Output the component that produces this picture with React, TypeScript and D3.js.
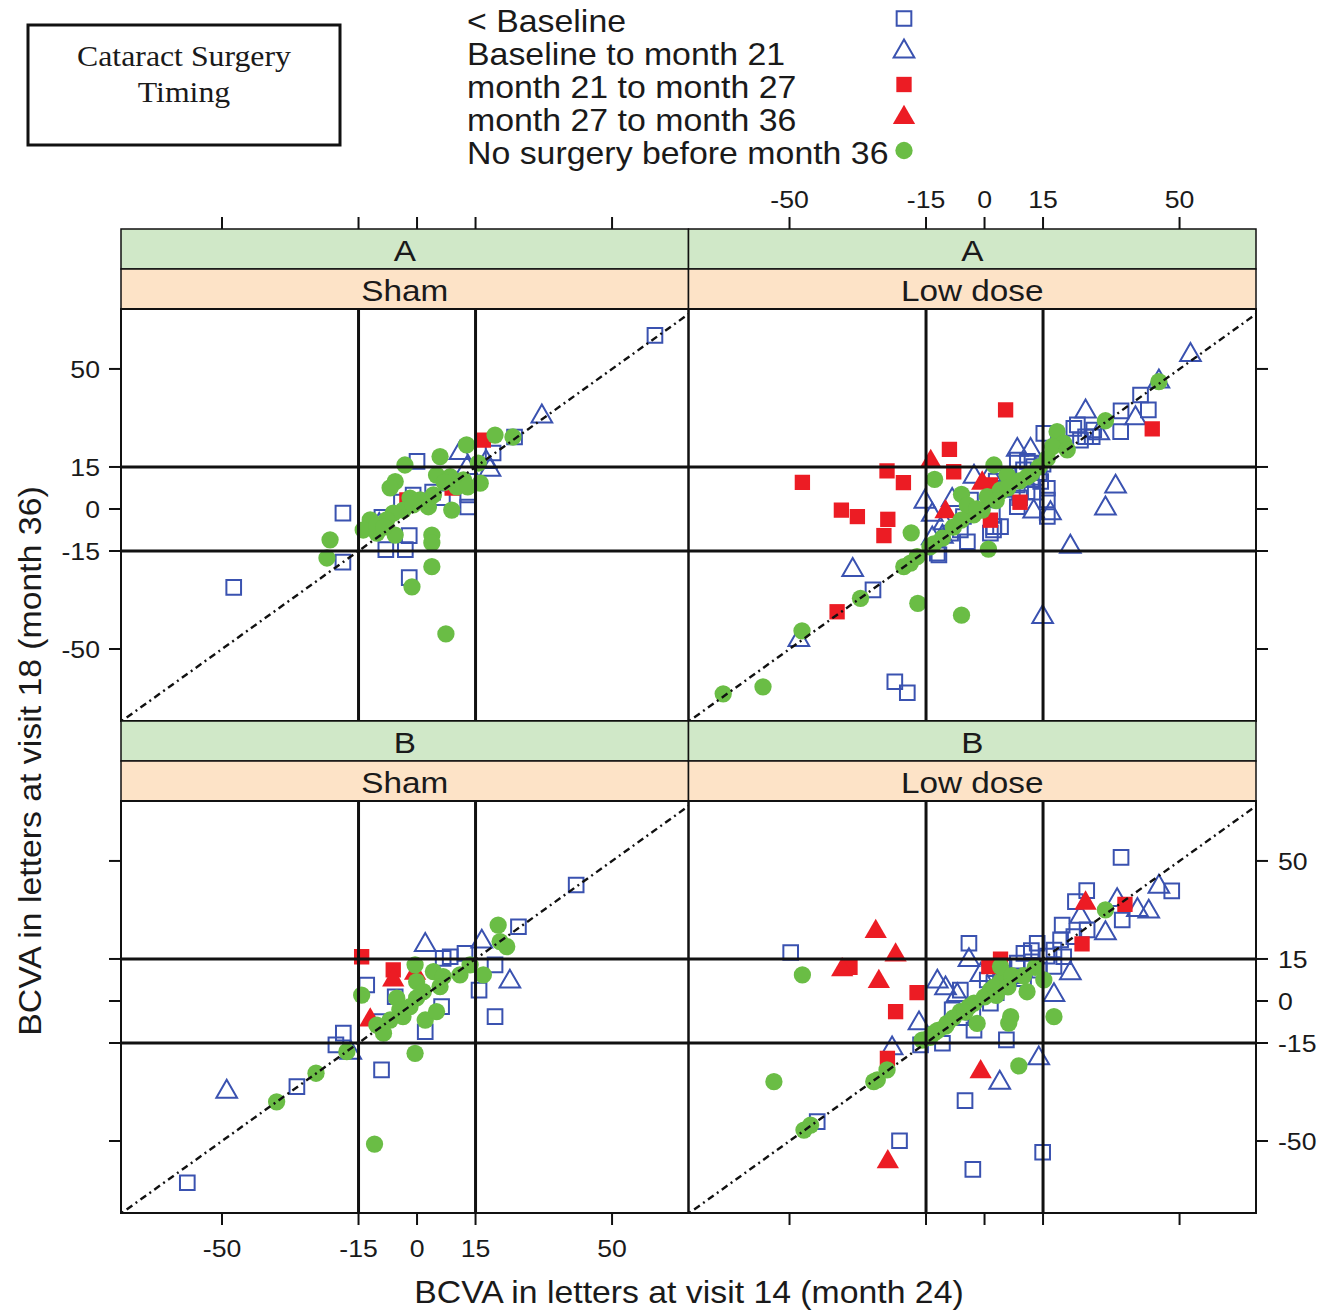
import React from 'react';
import * as d3 from 'd3';

// [x = BCVA change at month 24, y = BCVA change at month 36, surgery-timing group]
type Pt = [number, number, number];

const GROUPS = [
  '< Baseline',
  'Baseline to month 21',
  'month 21 to month 27',
  'month 27 to month 36',
  'No surgery before month 36',
];
const STUDIES = ['A', 'B'];
const ARMS = ['Sham', 'Low dose'];
const TICKS = [-50, -15, 0, 15, 50];
const REF_LINES = [-15, 15];

const aSham: Pt[] = [
  [61, 62, 0], [-47, -28, 0], [-19, -1.5, 0], [-19, -19, 0], [0, 17, 0], [-1, 5, 0], [-4, 2.5, 0],
  [4, 6, 0], [6.5, 4, 0], [13, 5, 0], [13, 0.7, 0], [-9, -3, 0], [-8, -14.5, 0], [-3, -14.5, 0],
  [-2, -9.5, 0], [-2, -24.5, 0], [19.5, 20, 0], [25, 25.7, 0],
  [32, 33, 1], [17.7, 16.8, 1], [11, 20, 1], [18.7, 14, 1], [12.8, 14.6, 1], [-9.7, -5.7, 1],
  [17, 24.6, 2], [-2.6, 3.2, 2], [9, 7.5, 2],
  [20, 26.4, 4], [24.6, 25.7, 4], [12.7, 22.9, 4], [5.9, 18.7, 4], [-3.1, 15.7, 4], [5, 12.1, 4],
  [8.5, 11.5, 4], [11.9, 10.4, 4], [16.2, 9.2, 4], [-5.6, 9.8, 4], [-6.9, 7.5, 4], [-1.8, 3.9, 4],
  [0.8, 3.2, 4], [4.2, 5, 4], [2.9, 0.8, 4], [-3.5, -0.4, 4], [-6.1, -1.5, 4], [-7.8, -3.9, 4],
  [-12, -3.9, 4], [-13.8, -7.5, 4], [-10.3, -8.6, 4], [-5.6, -9.3, 4], [3.8, -9.3, 4], [3.8, -12.1, 4],
  [8.9, -0.4, 4], [3.8, -20.6, 4], [-1.3, -27.8, 4], [-22.3, -11, 4], [-23.1, -17.5, 4], [15.7, 16.4, 4],
  [10.2, 7.9, 4], [13, 7.9, 4], [-10.3, -5.7, 4], [7.4, -44.6, 4], [-8.5, -6.5, 4], [-1, 1.5, 4],
  [7, 9.5, 4],
];

const aLow: Pt[] = [
  [-28.6, -28.9, 0], [-23, -61.7, 0], [-19.8, -65.6, 0], [-11.7, -16.4, 0], [-6.2, -7.5, 0],
  [-8.7, -8.6, 0], [-4.4, -11.7, 0], [-12.1, -15.8, 0], [-3.6, 3.2, 0], [-5.4, -2.7, 0], [2.3, -7.5, 0],
  [34.9, 27.6, 0], [42, 35.4, 0], [35, 35, 0], [23.8, 30, 0], [27.6, 25.8, 0], [15.2, 27, 0],
  [24.6, 24.6, 0], [14.4, 9.8, 0], [16.1, 7.4, 0], [10.9, 6.2, 0], [16.1, 3.2, 0], [2.4, -6.3, 0],
  [8.4, 17.5, 0], [12.6, 15.1, 0], [40, 40.7, 0], [22.9, 28.8, 0], [28, 28.2, 0], [25.9, 25.8, 0],
  [8.4, 0.8, 0], [4.1, -6.3, 0], [16.1, -2.7, 0], [1.5, -8.6, 0], [2, -2, 0], [8.4, 8.6, 0],
  [3, 10, 0], [6, 12, 0], [10, 14, 0], [12, 10.5, 0], [14, 13, 0], [5, 7, 0], [9, 4, 0], [13, 6, 0],
  [11, 17, 0], [15, 16, 0],
  [52.8, 55, 1], [44.7, 45.5, 1], [38.7, 32.4, 1], [25.9, 34.8, 1], [29.3, 27, 1], [33.6, 8, 1],
  [31, 0.2, 1], [8.4, 21.1, 1], [11.8, 21.1, 1], [12.6, -0.9, 1], [16.9, -1.5, 1], [22, -13.5, 1],
  [14.9, -38.6, 1], [-47.6, -46.8, 1], [-33.8, -21.8, 1], [-15.3, 2.6, 1], [-8.3, 3.2, 1],
  [-13.4, -2.1, 1], [-10.4, -5.1, 1], [-10.8, -9.9, 1], [-13.4, -10.5, 1], [-2.7, 11.5, 1], [1.5, 12.1, 1],
  [5.4, 35.4, 2], [43, 28.6, 2], [-9, 21.3, 2], [-25, 13.6, 2], [-20.8, 9.4, 2], [-46.7, 9.5, 2],
  [-36.7, -0.4, 2], [-32.6, -2.7, 2], [-24.8, -3.7, 2], [-25.8, -9.5, 2], [-7.9, 13.3, 2],
  [1.5, 8.6, 2], [1.5, -4, 2], [9.1, 2.4, 2], [-37.8, -36.7, 2],
  [-13.8, 16.9, 3], [-10, -1, 3], [-0.6, 9.2, 3],
  [-67, -66, 4], [-56.8, -63.5, 4], [-46.8, -43.5, 4], [-31.8, -31.9, 4], [-20.7, -20.6, 4],
  [-19, -19.3, 4], [-17.3, -17, 4], [-17.1, -33.7, 4], [-5.9, -37.9, 4], [1, -14.3, 4],
  [-12.8, 10.6, 4], [-5.9, 5.2, 4], [-18.8, -8.5, 4], [2.3, 4.3, 4], [-0.6, -0.4, 4], [-2.8, -2.1, 4],
  [-10.8, -10.4, 4], [4.1, 6.2, 4], [31, 31.5, 4], [18.6, 27.6, 4], [20.3, 23.5, 4], [17.4, 22.3, 4],
  [21.2, 21.1, 4], [16.1, 18.1, 4], [2.4, 15.7, 4], [5.8, 12.1, 4], [10.9, 11.5, 4], [0.7, 4.4, 4],
  [4.1, 6.8, 4], [44.7, 45.5, 4], [-4.4, 1.4, 4], [-8, -6.5, 4], [-13, -12.5, 4], [-14, -13.5, 4],
  [-6, -4, 4], [-2, 0, 4], [3, 3, 4], [6, 7.5, 4], [9, 10, 4], [12, 12.5, 4], [14, 15, 4],
];

const bSham: Pt[] = [
  [-58.9, -64.9, 0], [-30.8, -30.6, 0], [-9.1, -24.6, 0], [-20.8, -15.7, 0], [26, 26.5, 0],
  [40.8, 41.4, 0], [6.7, 15.2, 0], [8.5, 15.8, 0], [12.3, 17, 0], [20, 12.9, 0], [20, -5.6, 0],
  [15.9, 3.9, 0], [-12.9, 5.7, 0], [-5.6, 1.5, 0], [6.3, -2, 0], [2.1, -11, 0], [-9.1, -7.4, 0],
  [-18.9, -11.5, 0],
  [-48.8, -32.4, 1], [16.6, 21.2, 1], [2.1, 20, 1], [23.8, 6.9, 1], [-17, -18.5, 1],
  [-14.2, 15.8, 2], [-6.1, 11.1, 2],
  [-6.1, 7.5, 3], [-0.5, 9.9, 3], [-12, -6.8, 3],
  [-36, -36, 4], [-25.9, -25.8, 4], [-18, -18.1, 4], [-10.9, -51.1, 4], [20.8, 27.1, 4],
  [21.3, 21.2, 4], [23, 19.4, 4], [-14.2, 2.1, 4], [-0.5, 12.9, 4], [4.2, 10.5, 4], [6.7, 8.7, 4],
  [11, 9.3, 4], [13.6, 12.9, 4], [17, 9.3, 4], [5.9, 5.1, 4], [-0.1, 6.9, 4], [1.6, 3.3, 4],
  [-5.2, 1, 4], [-4.4, -3.2, 4], [-0.1, 1.1, 4], [-6.9, -6.8, 4], [-10.3, -8.6, 4], [-8.6, -11.5, 4],
  [2.1, -6.8, 4], [5, -3.8, 4], [-0.5, -18.7, 4], [-3.6, -5.6, 4], [-1.8, -2, 4],
];

const bLow: Pt[] = [
  [-49.7, 17.3, 0], [-4, 20.6, 0], [-6.2, 3.9, 0], [-8.3, -3.2, 0], [-2.7, -10.4, 0], [5.6, -13.9, 0],
  [1.5, -0.8, 0], [-16.4, -15.7, 0], [-10.8, -15.1, 0], [-42.9, -43.1, 0], [-21.8, -49.9, 0],
  [-5, -35.6, 0], [-3, -60.1, 0], [14.9, -54, 0], [35, 51.3, 0], [48, 39.3, 0], [26.2, 39.4, 0],
  [23.3, 35.5, 0], [35.3, 28.9, 0], [19.9, 27.1, 0], [26.3, 25.4, 0], [22.9, 23, 0], [19.5, 21.8, 0],
  [17.8, 18.2, 0], [13.5, 20.6, 0], [10.1, 17, 0], [20.3, 15.8, 0], [17.8, 12.3, 0], [8.4, 13.5, 0],
  [4.1, 9.9, 0], [2.4, 6.3, 0], [0.7, 7.5, 0], [5, 12, 0], [8, 9, 0], [12, 14, 0], [14, 11, 0],
  [16, 16, 0], [10, 8, 0], [3, 3, 0], [12, 18, 0], [-3, -4, 0], [-6, -6, 0],
  [-4, 14.6, 1], [-12.1, 6.9, 1], [-10, 4.5, 1], [-7, 2.1, 1], [-1, 9.3, 1], [-16.8, -8, 1],
  [-23.7, -16.9, 1], [3.9, -29.2, 1], [13.9, -20.5, 1], [44.7, 40.8, 1], [34, 36, 1], [39.2, 32.5, 1],
  [42.1, 31.9, 1], [31, 24.2, 1], [24.6, 30.1, 1], [22, 9.9, 1], [17.8, 2.1, 1],
  [-34.5, 12, 2], [-17.3, 3, 2], [-22.8, -3.8, 2], [4.1, 14.9, 2], [-24.9, -20.5, 2], [36, 34.5, 2],
  [25, 20.4, 2], [1.1, 12.3, 2],
  [-27.9, 24.8, 3], [-22.8, 16.4, 3], [-36.5, 11.1, 3], [-27.1, 6.9, 3], [-1, -25.3, 3],
  [-24.8, -57.4, 3], [25.9, 34.9, 3],
  [-46.7, 9.3, 4], [-9.6, -8, 4], [-6.2, -3.8, 4], [-2.7, -0.8, 4], [1.5, 3.9, 4], [4.1, 6.9, 4],
  [-1.9, -8, 4], [6.2, -7.9, 4], [-54, -28.8, 4], [-28.4, -28.8, 4], [-25, -24.6, 4], [-27.5, -28.2, 4],
  [-46.3, -46.1, 4], [-44.6, -44.3, 4], [8.8, -23.2, 4], [31, 32.5, 4], [4.1, 12.3, 4], [15.2, 7.5, 4],
  [10.9, 3.3, 4], [6.7, -5.6, 4], [17.8, -5.6, 4], [-13, -11.5, 4], [-16, -14, 4], [-12, -10.5, 4],
  [-8, -6, 4], [-4, -2, 4], [0, 1.5, 4], [2.5, 5, 4], [7, 9, 4], [-10, -9, 4], [-14, -13, 4],
  [-5, -4, 4], [3, 2, 4], [6, 5, 4], [10, 9, 4], [13, 12, 4],
];

// ---- layout ----
const W = 1335;
const H = 1313;
const X_DOMAIN: [number, number] = [-75.9, 69.6];
const Y_DOMAIN: [number, number] = [-75.7, 71.4];
const LEFT = 121;
const COL_W = 567.5;
const TOP = 229;
const STRIP_H = 40;
const PANEL_H = 412;
const ROW_H = 2 * STRIP_H + PANEL_H;
const TICK = 12;

const SANS = '"Liberation Sans", Arial, Helvetica, sans-serif';
const SERIF = '"Liberation Serif", "Times New Roman", serif';
const SX = 1.11;

const BLUE = '#3a52b0';
const RED = '#ec1c24';
const GREEN = '#6abd45';
const STRIP_OUTER = '#d0e8c8';
const STRIP_INNER = '#fde3c7';

const SYMBOLS = [
  { path: d3.symbol(d3.symbolSquare, 215)() as string, fill: 'none', stroke: BLUE },
  { path: d3.symbol(d3.symbolTriangle, 185)() as string, fill: 'none', stroke: BLUE },
  { path: d3.symbol(d3.symbolSquare, 235)() as string, fill: RED, stroke: 'none' },
  { path: d3.symbol(d3.symbolTriangle, 215)() as string, fill: RED, stroke: 'none' },
  { path: d3.symbol(d3.symbolCircle, 235)() as string, fill: GREEN, stroke: 'none' },
];

function Txt(props: {
  x: number; y: number; size: number; anchor?: string; rotate?: number;
  family?: string; sx?: number; children: React.ReactNode;
}) {
  const { x, y, size, anchor = 'start', rotate = 0, family = SANS, sx = SX, children } = props;
  return (
    <text
      transform={`translate(${x},${y})${rotate ? ` rotate(${rotate})` : ''} scale(${sx},1)`}
      fontSize={size}
      fontFamily={family}
      textAnchor={anchor as any}
      fill="#1a1a1a"
    >
      {children}
    </text>
  );
}

function Mark({ x, y, g }: { x: number; y: number; g: number }) {
  const s = SYMBOLS[g];
  return (
    <path
      d={s.path}
      transform={`translate(${x},${y})`}
      fill={s.fill}
      stroke={s.stroke}
      strokeWidth={2}
    />
  );
}

const PANELS = [
  { study: STUDIES[0], arm: ARMS[0], data: aSham, row: 0, col: 0 },
  { study: STUDIES[0], arm: ARMS[1], data: aLow, row: 0, col: 1 },
  { study: STUDIES[1], arm: ARMS[0], data: bSham, row: 1, col: 0 },
  { study: STUDIES[1], arm: ARMS[1], data: bLow, row: 1, col: 1 },
];

function Panel({ p }: { p: (typeof PANELS)[number] }) {
  const x0 = LEFT + p.col * COL_W;
  const stripTop = TOP + p.row * ROW_H;
  const py0 = stripTop + 2 * STRIP_H;
  const x = d3.scaleLinear().domain(X_DOMAIN).range([x0, x0 + COL_W]);
  const y = d3.scaleLinear().domain(Y_DOMAIN).range([py0 + PANEL_H, py0]);
  const clipId = `clip-${p.row}-${p.col}`;
  const dLo = Math.max(X_DOMAIN[0], Y_DOMAIN[0]);
  const dHi = Math.min(X_DOMAIN[1], Y_DOMAIN[1]);
  const ordered = [0, 1, 2, 3, 4].flatMap((g) => p.data.filter((d) => d[2] === g));

  return (
    <g>
      <defs>
        <clipPath id={clipId}>
          <rect x={x0} y={py0} width={COL_W} height={PANEL_H} />
        </clipPath>
      </defs>
      {/* strips */}
      <rect x={x0} y={stripTop} width={COL_W} height={STRIP_H} fill={STRIP_OUTER} stroke="#111" strokeWidth={1.5} />
      <rect x={x0} y={stripTop + STRIP_H} width={COL_W} height={STRIP_H} fill={STRIP_INNER} stroke="#111" strokeWidth={1.5} />
      <Txt x={x0 + COL_W / 2} y={stripTop + 32} size={30} anchor="middle">{p.study}</Txt>
      <Txt x={x0 + COL_W / 2} y={stripTop + STRIP_H + 32} size={30} anchor="middle">{p.arm}</Txt>

      <g clipPath={`url(#${clipId})`}>
        {ordered.map((d, i) => (
          <Mark key={i} x={x(d[0])} y={y(d[1])} g={d[2]} />
        ))}
        {REF_LINES.map((v) => (
          <line key={`v${v}`} x1={x(v)} x2={x(v)} y1={py0} y2={py0 + PANEL_H} stroke="#111" strokeWidth={3} />
        ))}
        {REF_LINES.map((v) => (
          <line key={`h${v}`} x1={x0} x2={x0 + COL_W} y1={y(v)} y2={y(v)} stroke="#111" strokeWidth={3} />
        ))}
        <line
          x1={x(dLo)} y1={y(dLo)} x2={x(dHi)} y2={y(dHi)}
          stroke="#111" strokeWidth={2.4} strokeDasharray="2,4,7,4"
        />
      </g>
      <rect x={x0} y={py0} width={COL_W} height={PANEL_H} fill="none" stroke="#111" strokeWidth={2} />

      {/* top axis ticks (top row), labels on right column */}
      {p.row === 0 &&
        TICKS.map((t) => (
          <g key={`t${t}`}>
            <line x1={x(t)} x2={x(t)} y1={stripTop - TICK} y2={stripTop} stroke="#111" strokeWidth={2} />
            {p.col === 1 && (
              <Txt x={x(t)} y={stripTop - 21} size={24} anchor="middle">{String(t)}</Txt>
            )}
          </g>
        ))}
      {/* bottom axis ticks (bottom row), labels on left column */}
      {p.row === 1 &&
        TICKS.map((t) => (
          <g key={`b${t}`}>
            <line x1={x(t)} x2={x(t)} y1={py0 + PANEL_H} y2={py0 + PANEL_H + TICK} stroke="#111" strokeWidth={2} />
            {p.col === 0 && (
              <Txt x={x(t)} y={py0 + PANEL_H + 44} size={24} anchor="middle">{String(t)}</Txt>
            )}
          </g>
        ))}
      {/* left axis ticks (left column), labels on top row */}
      {p.col === 0 &&
        TICKS.map((t) => (
          <g key={`l${t}`}>
            <line x1={x0 - TICK} x2={x0} y1={y(t)} y2={y(t)} stroke="#111" strokeWidth={2} />
            {p.row === 0 && (
              <Txt x={x0 - 21} y={y(t) + 9} size={24} anchor="end">{String(t)}</Txt>
            )}
          </g>
        ))}
      {/* right axis ticks (right column), labels on bottom row */}
      {p.col === 1 &&
        TICKS.map((t) => (
          <g key={`r${t}`}>
            <line x1={x0 + COL_W} x2={x0 + COL_W + TICK} y1={y(t)} y2={y(t)} stroke="#111" strokeWidth={2} />
            {p.row === 1 && (
              <Txt x={x0 + COL_W + 22} y={y(t) + 9} size={24} anchor="start">{String(t)}</Txt>
            )}
          </g>
        ))}
    </g>
  );
}

function Legend() {
  const tx = 467;
  const sx = 904;
  const base = 31.5;
  const step = 33;
  return (
    <g>
      {GROUPS.map((g, i) => (
        <g key={g}>
          <Txt x={tx} y={base + i * step} size={30.5} anchor="start">{g}</Txt>
          <Mark x={sx} y={base + i * step - 13} g={i} />
        </g>
      ))}
    </g>
  );
}

export default function App() {
  return (
    <svg
      width={W}
      height={H}
      viewBox={`0 0 ${W} ${H}`}
      style={{ position: 'absolute', left: 0, top: 0, background: '#fff' }}
    >
      <rect x={0} y={0} width={W} height={H} fill="#fff" />
      {/* title box */}
      <rect x={28} y={25} width={312} height={120} fill="none" stroke="#111" strokeWidth={3} />
      <Txt x={184} y={66} size={30} anchor="middle" family={SERIF} sx={1.06}>Cataract Surgery</Txt>
      <Txt x={184} y={102} size={30} anchor="middle" family={SERIF} sx={1.06}>Timing</Txt>

      <Legend />

      {PANELS.map((p) => (
        <Panel key={`${p.row}-${p.col}`} p={p} />
      ))}

      {/* axis titles */}
      <Txt x={689} y={1303} size={31} anchor="middle" sx={1.09}>BCVA in letters at visit 14 (month 24)</Txt>
      <Txt x={41} y={761} size={31} anchor="middle" rotate={-90} sx={1.09}>BCVA in letters at visit 18 (month 36)</Txt>
    </svg>
  );
}
